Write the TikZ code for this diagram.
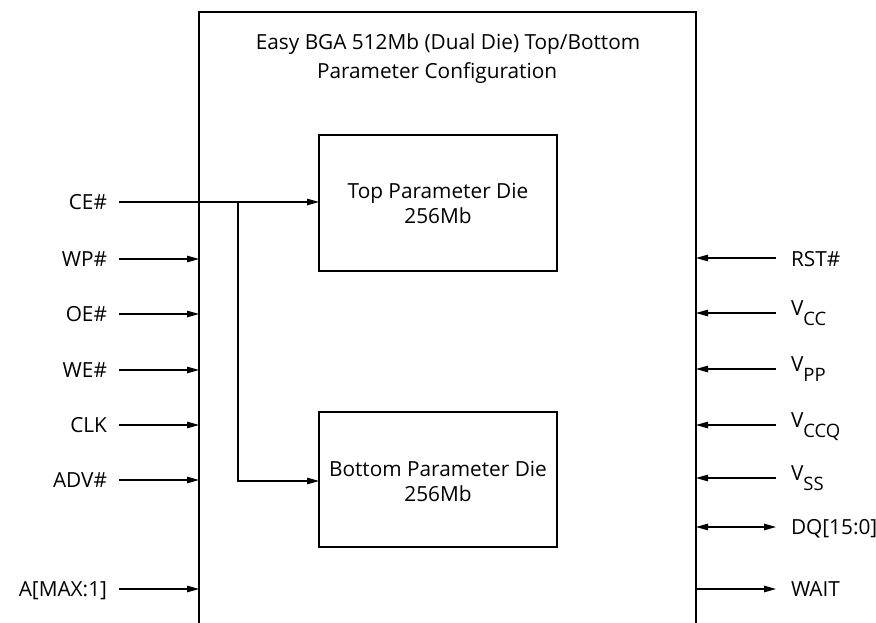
\documentclass[tikz,border=0pt]{standalone}
\usepackage{fontspec}
\setmainfont{Open Sans}
\usetikzlibrary{arrows.meta}
\newcommand{\vlbl}[1]{V\raisebox{-10pt}{\fontsize{18.5}{20}\selectfont #1}}
\begin{document}
\begin{tikzpicture}[x=1pt,y=-1pt,
  every node/.style={inner sep=0pt,outer sep=0pt,font=\fontsize{20.8}{24}\selectfont},
  wire/.style={line width=1.2pt},
  sig/.style={line width=1.2pt,-{Triangle[length=12pt,width=6.5pt]}},
  bisig/.style={line width=1.2pt,{Triangle[length=12pt,width=6.5pt]}-{Triangle[length=12pt,width=6.5pt]}},
  diebox/.style={draw,line width=1.2pt}]
\useasboundingbox (0,0) rectangle (876,623);
% outer package box (open at bottom)
\draw[wire] (199,623) -- (199,12) -- (696,12) -- (696,623);
\node[anchor=base] (t1) at (448,50) {Easy BGA 512Mb (Dual Die) Top/Bottom};
\node[anchor=base west] (t2) at (317,79) {Parameter Configuration};
% dies
\draw[diebox] (319,135) rectangle (557,271);
\coordinate (topW) at (319,202);
\node[anchor=base] (d1a) at (438,198) {Top Parameter Die};
\node[anchor=base] (d1b) at (438,223) {256Mb};
\draw[diebox] (319,412) rectangle (557,547);
\coordinate (botW) at (319,481);
\node[anchor=base] (d2a) at (438,476) {Bottom Parameter Die};
\node[anchor=base] (d2b) at (438,501) {256Mb};
% left signals
\foreach \name/\txt/\y in {ce/CE\#/202, wp/WP\#/259, oe/OE\#/314, we/WE\#/370, clk/CLK/425, adv/ADV\#/480, a/A[MAX:1]/589}{
  \node[anchor=base east] (\name) at (107,\y+7) {\txt};
  \coordinate (\name s) at (119,\y);
  \coordinate (\name e) at (199,\y);
}
\foreach \name in {wp,oe,we,clk,adv,a}{\draw[sig] (\name s) -- (\name e);}
\coordinate (br) at (238,202);
\coordinate (brb) at (238,481);
\draw[sig] (ces) -- (topW);
\draw[sig] (br) -- (brb) -- (botW);
% right signals
\node[anchor=base west] (rst) at (791,266) {RST\#};
\node[anchor=base west] (vcc) at (791,315) {\vlbl{CC}};
\node[anchor=base west] (vpp) at (791,371) {\vlbl{PP}};
\node[anchor=base west] (vccq) at (791,427) {\vlbl{CCQ}};
\node[anchor=base west] (vss) at (791,480) {\vlbl{SS}};
\node[anchor=base west] (dq) at (791,534) {DQ[15:0]};
\node[anchor=base west] (wait) at (791,596) {WAIT};
\foreach \y in {258,313,369,425,478}{
  \draw[sig] (776,\y) -- (696,\y);
}
\draw[bisig] (696,527) -- (776,527);
\draw[sig] (696,589) -- (776,589);
\end{tikzpicture}
\end{document}
